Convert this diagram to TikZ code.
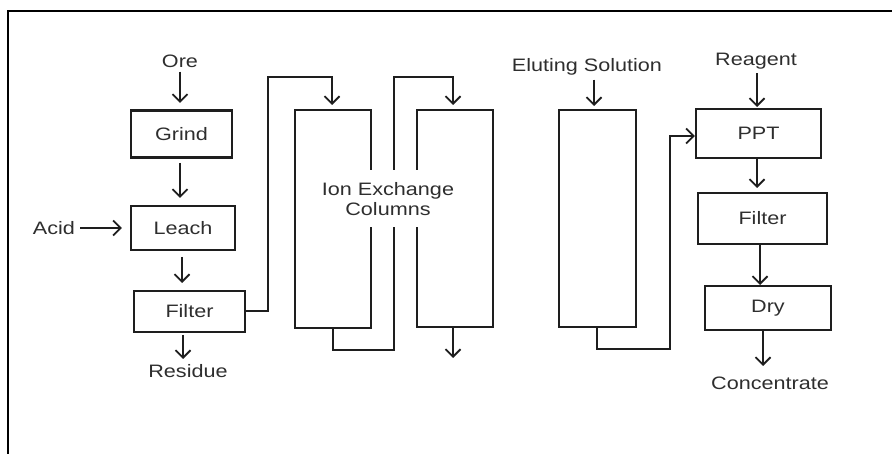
\documentclass[tikz,border=0pt]{standalone}
\usepackage{fontspec}
\setmainfont{Liberation Sans}[FakeStretch=1.2]
\usetikzlibrary{arrows.meta,calc}
\definecolor{txt}{HTML}{2E2E2E}
\definecolor{ln}{HTML}{1E1E1E}
\tikzset{
  box/.style={draw=ln, line width=2.4pt, inner sep=0pt, text=txt, font=\fontsize{18}{20}\selectfont},
  lbl/.style={text=txt, font=\fontsize{18}{21}\selectfont, inner sep=1pt},
  arr/.style={draw=ln, line width=2pt, -{Straight Barb[length=7.5pt,width=15pt,line width=1.8pt]}},
}
\begin{document}
\begin{tikzpicture}[x=1pt,y=-1pt]
\useasboundingbox (0,0) rectangle (892,454);
\draw[draw=black, line width=2.6pt] (8,454) -- (8,11) -- (892,11);

% left chain
\node[box, minimum width=101pt, minimum height=47pt] (grind) at (181.5,134) {Grind};
\node[box, minimum width=104pt, minimum height=44pt] (leach) at (183,228) {Leach};
\node[box, minimum width=111pt, minimum height=41pt] (filterA) at (189.5,311.5) {Filter};
\node[lbl] (ore) at (180,61) {Ore};
\node[lbl] (acid) at (54,228) {Acid};
\node[lbl] (residue) at (188,371) {Residue};

\draw[arr, shorten <=3pt, shorten >=7pt] (ore.south -| 180,0) -- (180,110);
\draw[arr, shorten <=6pt, shorten >=8pt] (180,157) -- (180,206);
\draw[arr, shorten <=4pt, shorten >=8pt] (acid.east) -- (leach.west);
\draw[arr, shorten <=7pt, shorten >=8pt] (182,250) -- (182,291);
\draw[arr, shorten <=3pt, shorten >=1pt] (183,332) -- (183,360);

% columns
\node[box, minimum width=76pt, minimum height=218pt] (colA) at (333,219) {};
\node[box, minimum width=76pt, minimum height=217pt] (colB) at (455,218.5) {};
\node[box, minimum width=77pt, minimum height=217pt] (colC) at (597.5,218.5) {};

\coordinate (pA) at (268,77);
\draw[arr, shorten >=5pt] (filterA.east) -| (pA) -| (332,110);
\coordinate (pB) at (394,350);
\draw[arr, shorten >=5pt] (colA.south) |- (pB) |- (453,77) -- (453,110);
\coordinate (outB) at (453,358);
\draw[arr] (453,327) -- (outB);

\node[fill=white, text=txt, font=\fontsize{18}{20}\selectfont, align=center, inner xsep=1pt, minimum height=57pt] (ionx) at (388,199) {Ion Exchange\\Columns};

\node[lbl] (elut) at (587,67) {Eluting Solution};
\draw[arr, shorten <=3pt, shorten >=2pt] (elut.south -| 594,0) -- (594,108);

% right chain
\node[box, minimum width=125pt, minimum height=49pt] (ppt) at (758.5,133.5) {PPT};
\node[box, minimum width=129pt, minimum height=51pt] (filterB) at (762.5,218.5) {Filter};
\node[box, minimum width=126pt, minimum height=44pt] (dry) at (768,308) {Dry};
\node[lbl] (reagent) at (756,61) {Reagent};
\node[lbl] (conc) at (770,383) {Concentrate};

\coordinate (pC) at (670,349);
\draw[arr] (597,327) |- (pC) |- (ppt.west |- 0,136);
\draw[arr, shorten <=3pt, shorten >=1pt] (reagent.south -| 757,0) -- (757,108);
\draw[arr, shorten >=5pt] (757,158) -- (757,193);
\draw[arr, shorten >=1pt] (760,244) -- (760,286);
\draw[arr, shorten >=3pt] (763,330) -- (763,369);
\end{tikzpicture}
\end{document}
